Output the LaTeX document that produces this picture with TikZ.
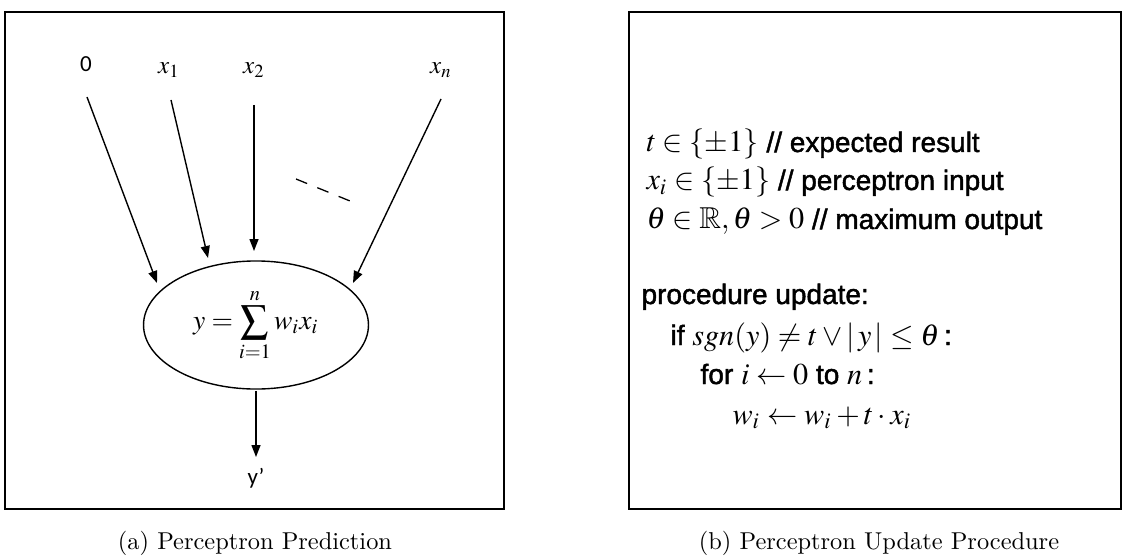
\documentclass[tikz,border=0pt]{standalone}
\usepackage{amssymb}
\usepackage{mathptmx}
\usepackage[no-math]{fontspec}
\setmainfont{Latin Modern Roman}
\newfontfamily\calib{Carlito}
\newfontfamily\helv{Liberation Sans}[FakeBold=1.6]
\usetikzlibrary{shapes.geometric,arrows.meta}
\newcommand{\bm}[1]{\scalebox{1.08}{$#1$}}
\tikzset{
  frame/.style={draw, line width=2pt, inner sep=0, outer sep=0},
  capt/.style={font=\normalsize, scale=2.44, inner sep=0},
  inlab/.style={inner sep=0, scale=2.5},
  sanslab/.style={inner sep=0, font=\calib, scale=2.3},
  conn/.style={line width=1.4pt, -{Triangle[length=12pt,width=9pt]}},
  neuron/.style={ellipse, draw, line width=1.4pt, inner sep=0, scale=2.76, minimum width=81.5pt, minimum height=46.4pt},
  codeline/.style={anchor=west, inner sep=0, font=\helv, scale=2.8, text height=0.75em, text depth=0.25em},
}
\begin{document}
\begin{tikzpicture}[x=1pt,y=-1pt]
\useasboundingbox (0,0) rectangle (1124,556);
% frames
\node[frame, minimum width=499, minimum height=497] (boxa) at (254.5,260.5) {};
\node[frame, minimum width=492, minimum height=497] (boxb) at (875,260.5) {};
% captions
\node[capt] (capa) at (255,543) {(a) Perceptron Prediction};
\node[capt] (capb) at (879,543) {(b) Perceptron Update Procedure};
% input labels
\node[sanslab] (l0) at (86,64) {0};
\node[inlab] (l1) at (169,70) {$x_1$};
\node[inlab] (l2) at (254,70) {$x_2$};
\node[inlab] (ln) at (441,70) {$x_n$};
% neuron
\node[neuron] (ell) at (256,325) {$\displaystyle y=\sum_{i=1}^{n} w_i x_i$};
\node[sanslab] (yout) at (256,478) {y’};
% connector ends
\coordinate (s0) at (87,97);   \coordinate (e0) at (157,283);
\coordinate (s1) at (171,100); \coordinate (e1) at (208,258);
\coordinate (s2) at (254,105); \coordinate (e2) at (254,251);
\coordinate (sn) at (441,99);  \coordinate (en) at (353,283);
\coordinate (eo) at (256,457);
\coordinate (d1) at (296,179); \coordinate (d2) at (350,201);
\draw[conn] (s0) -- (e0);
\draw[conn] (s1) -- (e1);
\draw[conn] (s2) -- (e2);
\draw[conn] (sn) -- (en);
\draw[conn] (ell.south) -- (eo);
\draw[line width=1.3pt, dash pattern=on 12pt off 11pt] (d1) -- (d2);
% procedure text
\node[codeline] (t1) at (646,145) {\bm{t \in \{\pm 1\}} // expected result};
\node[codeline] (t2) at (646,183) {\bm{x_i \in \{\pm 1\}} // perceptron input};
\node[codeline] (t3) at (646,222) {\bm{\theta \in \mathbb{R}, \theta > 0} // maximum output};
\node[codeline] (t4) at (641,297) {procedure update:};
\node[codeline] (t5) at (670,338) {if \bm{sgn(y) \neq t \vee |\,y\,| \leq \theta}\,:};
\node[codeline] (t6) at (700,377) {for \bm{i \leftarrow 0} to \bm{n}\,:};
\node[codeline] (t7) at (732,417) {\bm{w_i \leftarrow w_i + t \cdot x_i}};
\end{tikzpicture}
\end{document}
